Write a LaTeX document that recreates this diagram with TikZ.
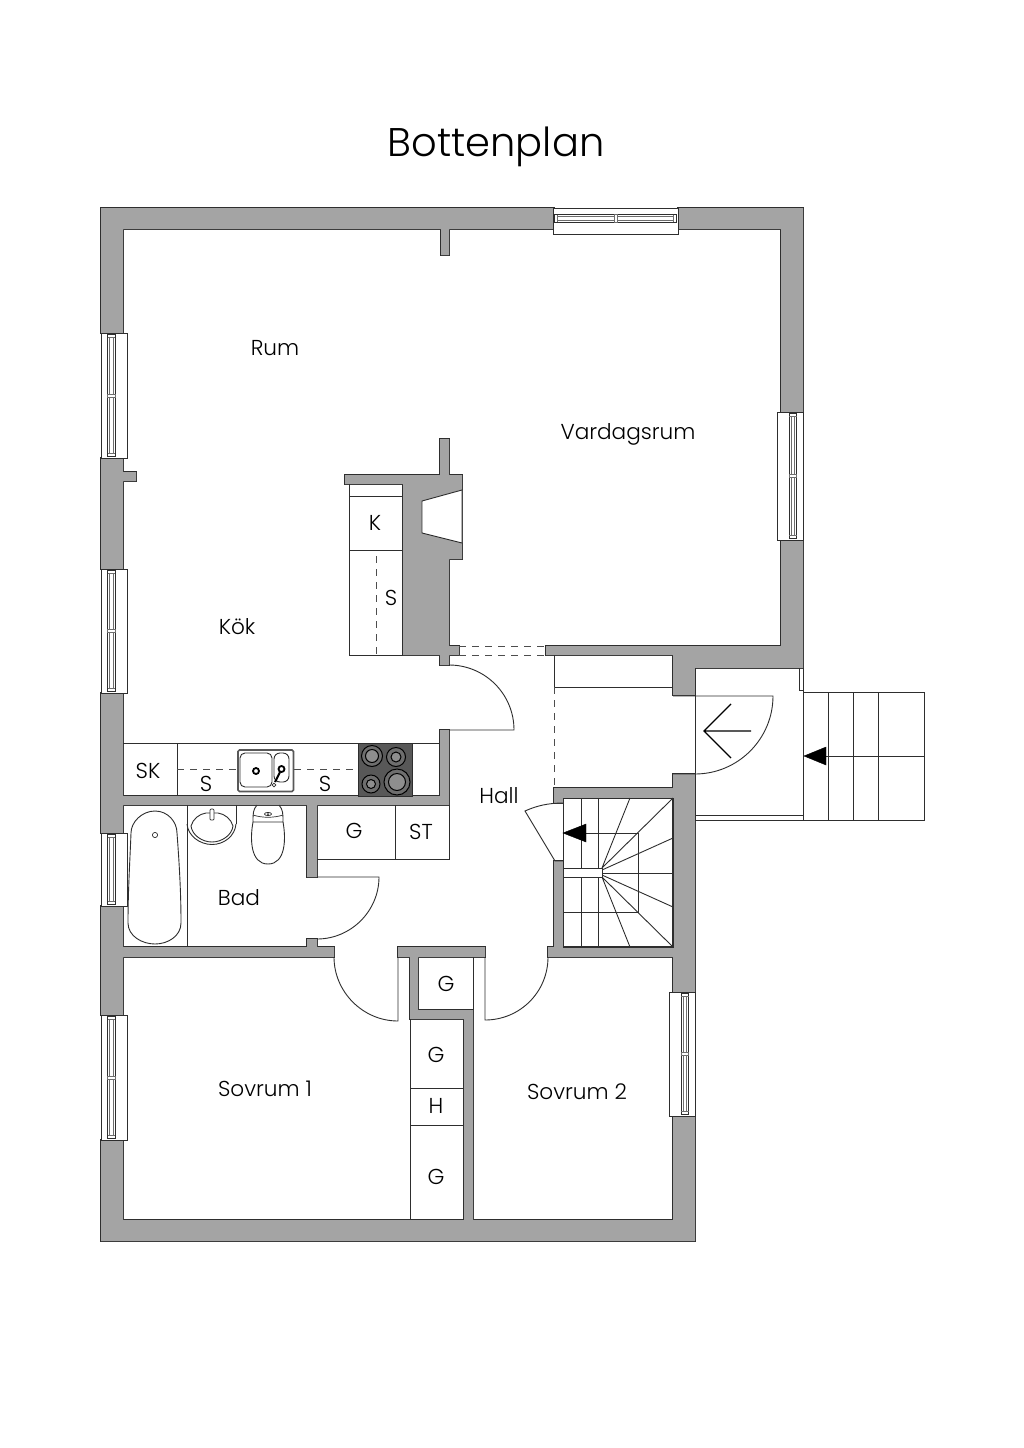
\documentclass[tikz,border=0pt]{standalone}
\usepackage{fontspec}
\setmainfont{Poppins Light}
\definecolor{wallgray}{HTML}{A4A4A4}
\definecolor{ink}{HTML}{2E2E2E}
\definecolor{hobdark}{HTML}{585858}
\definecolor{hobband}{HTML}{6E6E6E}
\definecolor{hobring}{HTML}{8E8E8E}
\tikzset{
  thin line/.style={draw=ink,line width=0.9pt},
  fine line/.style={draw=ink,line width=0.7pt},
  glass line/.style={draw=ink!70,line width=0.6pt},
  dash line/.style={draw=ink!85,line width=0.9pt,dash pattern=on 7pt off 6pt},
  room label/.style={font=\fontsize{21.6}{24}\selectfont,text=black,inner sep=0pt},
  title label/.style={font=\fontsize{40}{44}\selectfont,text=black,inner sep=0pt},
  winleft/.style={x={(0pt,-1pt)},y={(1pt,0pt)}},
  winright/.style={x={(0pt,-1pt)},y={(-1pt,0pt)}},
  wintop/.style={x={(1pt,0pt)},y={(0pt,-1pt)}},
  solid tip/.style={fill=black,draw=black,line width=0.4pt,line join=miter},
}
% #1 x, #2 y of the start on the outer face, #3 direction style, #4 length, #5 1 = centre bar
\newcommand{\casement}[5]{%
  \begin{scope}[shift={(#1,#2)},#3]
    \path[fill=white,thin line] (0,0) rectangle (#4,26);
    \path[fine line] (1.5,6.5) rectangle ({#4-1.5},14);
    \path[glass line] (4.5,6.5) -- (4.5,14) ({#4-4.5},6.5) -- ({#4-4.5},14);
    \path[glass line] (4.5,8.7) -- ({#4-4.5},8.7) (4.5,12) -- ({#4-4.5},12);
    \ifnum#5=1
      \path[fill=white,glass line] ({#4/2-1.7},6.5) rectangle ({#4/2+1.7},14);
    \fi
  \end{scope}}
\newcommand{\wallshape}{
  (101,208) rectangle (554,229) (678,208) rectangle (803,229)
  (441,229) rectangle (449,255)
  (101,208) rectangle (123,333) (101,458) rectangle (123,569)
  (101,693) rectangle (123,833) (101,906) rectangle (123,1015)
  (101,1140) rectangle (123,1241)
  (123,472) rectangle (136,481)
  (781,208) rectangle (803,412) (781,540) rectangle (803,668)
  (546,646) rectangle (803,655) (695,655) rectangle (803,668)
  (673,655) rectangle (695,695)
  (673,774) rectangle (695,992) (673,1116) rectangle (695,1241)
  (101,1220) rectangle (695,1241)
  (123,796) rectangle (449,805) (440,730) rectangle (449,805)
  (307,805) rectangle (317,877) (307,939) rectangle (317,947)
  (123,947) rectangle (334,957)
  (554,788) rectangle (673,798) (554,788) rectangle (563,803)
  (554,861) rectangle (563,947) (548,947) rectangle (673,957)
  (398,947) rectangle (485,957) (410,957) rectangle (418,1019)
  (410,1010) rectangle (473,1019) (464,1010) rectangle (473,1220)
  (440,439) rectangle (449,475) (345,475) rectangle (462,484)
  (403,484) rectangle (462,559) (403,559) rectangle (449,655)
  (440,655) rectangle (449,665) (449,646) rectangle (459,655)
}
\begin{document}
\begin{tikzpicture}[x=1pt,y=-1pt,line join=miter]
\useasboundingbox[fill=white] (0,0) rectangle (1024,1448);

% walls: outline first, then the fill, so that overlaps leave no seams
\path[draw=ink,line width=1.8pt] \wallshape;
\path[fill=wallgray] \wallshape;

% fireplace opening
\path[fill=white,thin line] (462,490) -- (422,501) -- (422,533) -- (462,543) -- cycle;

% windows
\casement{101}{333}{winleft}{125}{1}
\casement{101}{569}{winleft}{124}{1}
\casement{101}{833}{winleft}{73}{0}
\casement{101}{1015}{winleft}{125}{1}
\casement{803}{412}{winright}{128}{1}
\casement{695}{992}{winright}{124}{1}
\casement{553}{208}{wintop}{125}{1}

% wardrobe K / S
\path[thin line] (349,484) -- (349,655) -- (403,655);
\path[thin line] (349,496) -- (403,496) (349,550) -- (403,550);
\path[dash line] (376,556) -- (376,655);

% passage
\path[dash line] (459,646) -- (546,646) (459,655) -- (546,655);
\path[thin line] (554,655) -- (554,687) -- (673,687);
\path[dash line] (554,687) -- (554,788);

% kitchen counter
\path[thin line] (123,743) -- (440,743);
\path[thin line] (177,743) -- (177,796);
\path[dash line] (177,769) -- (358,769);
\path[fill=hobdark,thin line] (358,743) rectangle (412,796);
\foreach \bx/\by/\br/\bi in {372/756/10.5/6.5, 396/757/9.5/5, 371/784/9/4.5, 397/782/13/8.5}{
  \path[fill=hobband,draw=black,line width=1pt] (\bx,\by) circle[radius=\br];
  \path[fill=hobring,draw=black,line width=1pt] (\bx,\by) circle[radius=\bi];
}

% sink
\path[fill=white,draw=ink!80,line width=1.6pt,rounded corners=1.5pt] (238,750) rectangle (293.5,791.5);
\path[thin line,rounded corners=5pt] (240,753) rectangle (272,787);
\path[thin line,rounded corners=6pt] (274,753) rectangle (289,782);
\path[draw=black,line width=1.8pt] (256,771) circle[radius=3];
\path[draw=black,line width=1.8pt] (281.5,769) circle[radius=3];
\path[draw=black,line width=2pt] (280,772) -- (275,782);
\path[fill=white,fine line] (274,785) circle[radius=1.8];

% bathroom
\path[thin line] (187,805) -- (187,947);
\path[thin line] (155,811) .. controls (168,811) and (177,822) .. (177,833)
  .. controls (179,860) and (181,890) .. (181,923)
  .. controls (181,936) and (168,944) .. (155,944)
  .. controls (142,944) and (128,936) .. (128,923)
  .. controls (128,890) and (130,860) .. (131,833)
  .. controls (131,822) and (142,811) .. (155,811) -- cycle;
\path[fine line] (155,835) circle[radius=2.6];
\path[thin line] (236,805) -- (236,824);
\path[thin line] (187,824) .. controls (188,836) and (200,844.5) .. (212,844.5)
  .. controls (224,844.5) and (235,836) .. (236,824);
\path[thin line] (191,826) .. controls (193,819) and (199,814) .. (206,813) -- (218,813)
  .. controls (225,814) and (231,819) .. (233,826)
  .. controls (232,835) and (222,842) .. (212,842)
  .. controls (202,842) and (192,835) .. (191,826) -- cycle;
\path[fill=white,fine line,rounded corners=1pt] (210,809) rectangle (214,820);
\path[thin line] (253,822) .. controls (253,813) and (253,810) .. (257,805)
  (279,805) .. controls (283,810) and (283,813) .. (283,822) -- (253,822);
\path[fine line] (253,815) .. controls (262,818) and (274,818) .. (283,815);
\path[thin line] (253,822) .. controls (250,838) and (250,864) .. (268,864)
  .. controls (286,864) and (286,838) .. (283,822);
\path[fine line] (268,814) ellipse[x radius=3.5,y radius=1.6];
\path[fill=ink] (268,814) circle[radius=1];

% cupboards G / ST
\path[thin line] (317,859) -- (449,859) -- (449,805) (395,805) -- (395,859);

% doors
\path[thin line] (449,730) -- (514,730) .. controls (514,694) and (485,665) .. (449,665);
\path[thin line] (317,877) -- (379,877) .. controls (379,911) and (351,939) .. (317,939);
\path[thin line] (398,957) -- (398,1021) .. controls (363,1021) and (334,992) .. (334,957);
\path[thin line] (485,957) -- (485,1020) .. controls (520,1020) and (548,992) .. (548,957);
\path[thin line] (673,696) -- (773,696) .. controls (773,739) and (738,774) .. (695,774) -- (673,774);
\path[thin line] (563,803) .. controls (548,803) and (536,806) .. (525,811) -- (555,861) -- (563,861);

% closets at the bedrooms
\path[thin line] (473,957) -- (473,1010);
\path[thin line] (410,1019) -- (410,1220);
\path[thin line] (410,1088) -- (464,1088) (410,1125) -- (464,1125);

% staircase
\path[thin line] (563,798) rectangle (673,947);
\path[thin line] (581,798) -- (581,868) (581,877) -- (581,947)
  (598,798) -- (598,868) (598,877) -- (598,947);
\path[thin line] (586,833) -- (638,833) -- (638,912) -- (563,912);
\path[thin line] (602,873) -- (673,873);
\path[thin line] (602,868) -- (630,798) (602,868) -- (673,798) (602,870) -- (673,838);
\path[thin line] (602,875) -- (673,907) (602,877) -- (673,947) (602,877) -- (630,947);
\path[fill=white,thin line] (563,868) rectangle (602,877);
\path[solid tip] (563,833) -- (586,824) -- (586,842) -- cycle;

% entrance
\path[thin line] (695,668) -- (695,820);
\path[thin line] (803,668) -- (803,815) -- (695,815);
\path[thin line] (695,820) -- (803,820);
\path[thin line] (799,668) -- (799,690) -- (803,690);
\path[draw=black,line width=1.2pt] (751,731) -- (704,731) (731,704) -- (704,731) -- (731,758);

% outside steps
\path[thin line] (803,692) rectangle (924,820);
\path[thin line] (828,692) -- (828,820) (853,692) -- (853,820) (878,692) -- (878,820);
\path[thin line] (826,756) -- (924,756);
\path[solid tip] (804,756) -- (826,747) -- (826,765) -- cycle;

% texts
\node[title label] (title) at (496,147) {Bottenplan};
\node[room label] (rum) at (275,348) {Rum};
\node[room label] (vardagsrum) at (628,434) {Vardagsrum};
\node[room label] (kok) at (237,627) {Kök};
\node[room label] (k) at (375,523) {K};
\node[room label] (s1) at (391,598) {S};
\node[room label] (sk) at (148,771) {SK};
\node[room label] (s2) at (206,784) {S};
\node[room label] (s3) at (325,784) {S};
\node[room label] (g1) at (354,831) {G};
\node[room label] (st) at (421,832) {ST};
\node[room label] (bad) at (239,898) {Bad};
\node[room label] (hall) at (499,796) {Hall};
\node[room label] (g2) at (446,984) {G};
\node[room label] (g3) at (436,1055) {G};
\node[room label] (h) at (436,1106) {H};
\node[room label] (g4) at (436,1177) {G};
\node[room label] (sovrum1) at (265,1089) {Sovrum 1};
\node[room label] (sovrum2) at (577,1092) {Sovrum 2};
\end{tikzpicture}
\end{document}
